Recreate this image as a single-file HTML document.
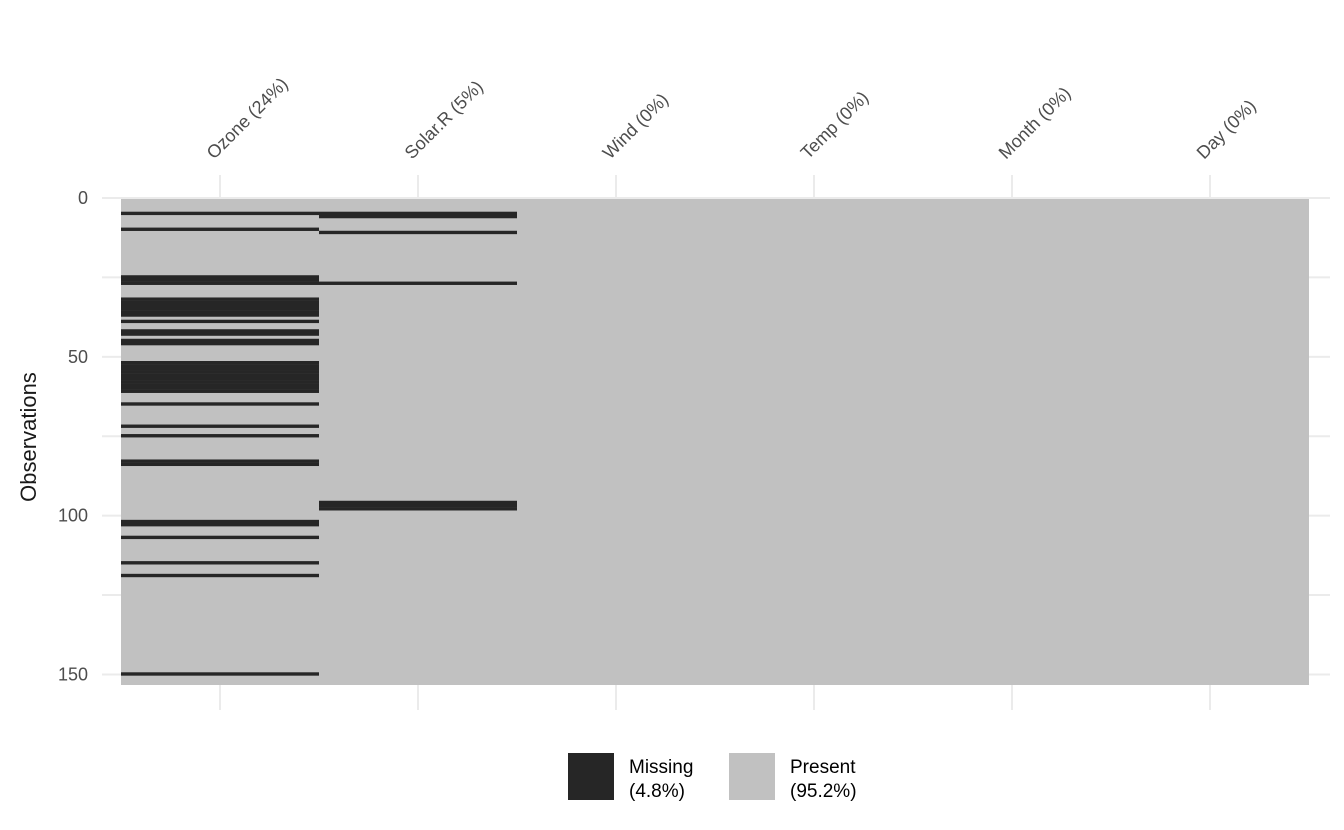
<!DOCTYPE html>
<html><head><meta charset="utf-8"><style>
html,body{margin:0;padding:0;background:#fff;}
svg{display:block;font-family:"Liberation Sans",Arial,sans-serif;}
</style></head><body>
<svg id="chart" width="1344" height="830" viewBox="0 0 1344 830" xmlns="http://www.w3.org/2000/svg"></svg>
<script>
const variables = ["Ozone","Solar.R","Wind","Temp","Month","Day"];
const pctMissing = [24,5,0,0,0,0];
const nRows = 153;
const missingOzone = [5,10,25,26,27,32,33,34,35,36,37,39,42,43,45,46,52,53,54,55,56,57,58,59,60,61,65,72,75,83,84,102,103,107,115,119,150];
const missingSolar = [5,6,11,27,96,97,98];
const missingRows = [missingOzone, missingSolar, [], [], [], []];
const yTicks = [0,50,100,150];
const yGrid = [0,25,50,75,100,125,150];
const legendLabels = ["Missing","Present"];
const legendPct = ["(4.8%)","(95.2%)"];

const NS="http://www.w3.org/2000/svg";
const svg=document.getElementById('chart');
const L=121,R=1309,T=199,B=685;
const colW=(R-L)/variables.length;
const rowH=(B-T)/nRows;
const xCol=i=>L+i*colW;
const yRow=r=>T+(r-1)*rowH;
const yTick=v=>T-1+v*rowH;
function el(tag,attrs,parent){const e=document.createElementNS(NS,tag);for(const k in attrs)e.setAttribute(k,attrs[k]);(parent||svg).appendChild(e);return e;}

// gridlines
yGrid.forEach(v=>{
  const g=el('line',{x1:102,x2:1330,y1:yTick(v),y2:yTick(v),stroke:'#ebebeb','stroke-width':2});
  
  
});
variables.forEach((v,i)=>{
  const cx=xCol(i)+colW/2;
  const g=el('line',{x1:cx,x2:cx,y1:175,y2:710,stroke:'#ebebeb','stroke-width':2});
  
  
});
// background present
const bg=el('rect',{x:L,y:T,width:R-L,height:B-T,fill:'#c1c1c1'});


// missing cells
missingRows.forEach((rows,i)=>{
  rows.forEach(r=>{
    const c=el('rect',{x:xCol(i),y:yRow(r),width:colW,height:rowH+0.2,fill:'#262626'});
    
    
  });
});
// x labels
variables.forEach((v,i)=>{
  const cx=xCol(i)+colW/2;
  const t=el('text',{x:cx-6,y:160,transform:`rotate(-45 ${cx-6} 160)`,'font-size':18,fill:'#4d4d4d'});
  t.textContent=v+' ('+pctMissing[i]+'%)';
  
  
});
// y ticks
yTicks.forEach(v=>{
  const t=el('text',{x:88,y:yTick(v)+6,'text-anchor':'end','font-size':18,fill:'#4d4d4d'});
  t.textContent=v;
  
  
});
const yt=el('text',{x:36,y:437,transform:'rotate(-90 36 437)','text-anchor':'middle','font-size':22,fill:'#1a1a1a'});
yt.textContent='Observations';


// legend
const colors=['#262626','#c1c1c1'];
const lx=[568,729];
legendLabels.forEach((lab,i)=>{
  const s=el('rect',{x:lx[i],y:753,width:46,height:47,fill:colors[i]});
  
  
  const t=el('text',{x:lx[i]+61,y:773,'font-size':19,fill:'#000'});
  
  
  const a=el('tspan',{x:lx[i]+61,dy:0},t);a.textContent=lab;
  const b=el('tspan',{x:lx[i]+61,dy:24},t);b.textContent=legendPct[i];
});
</script>
</body></html>
